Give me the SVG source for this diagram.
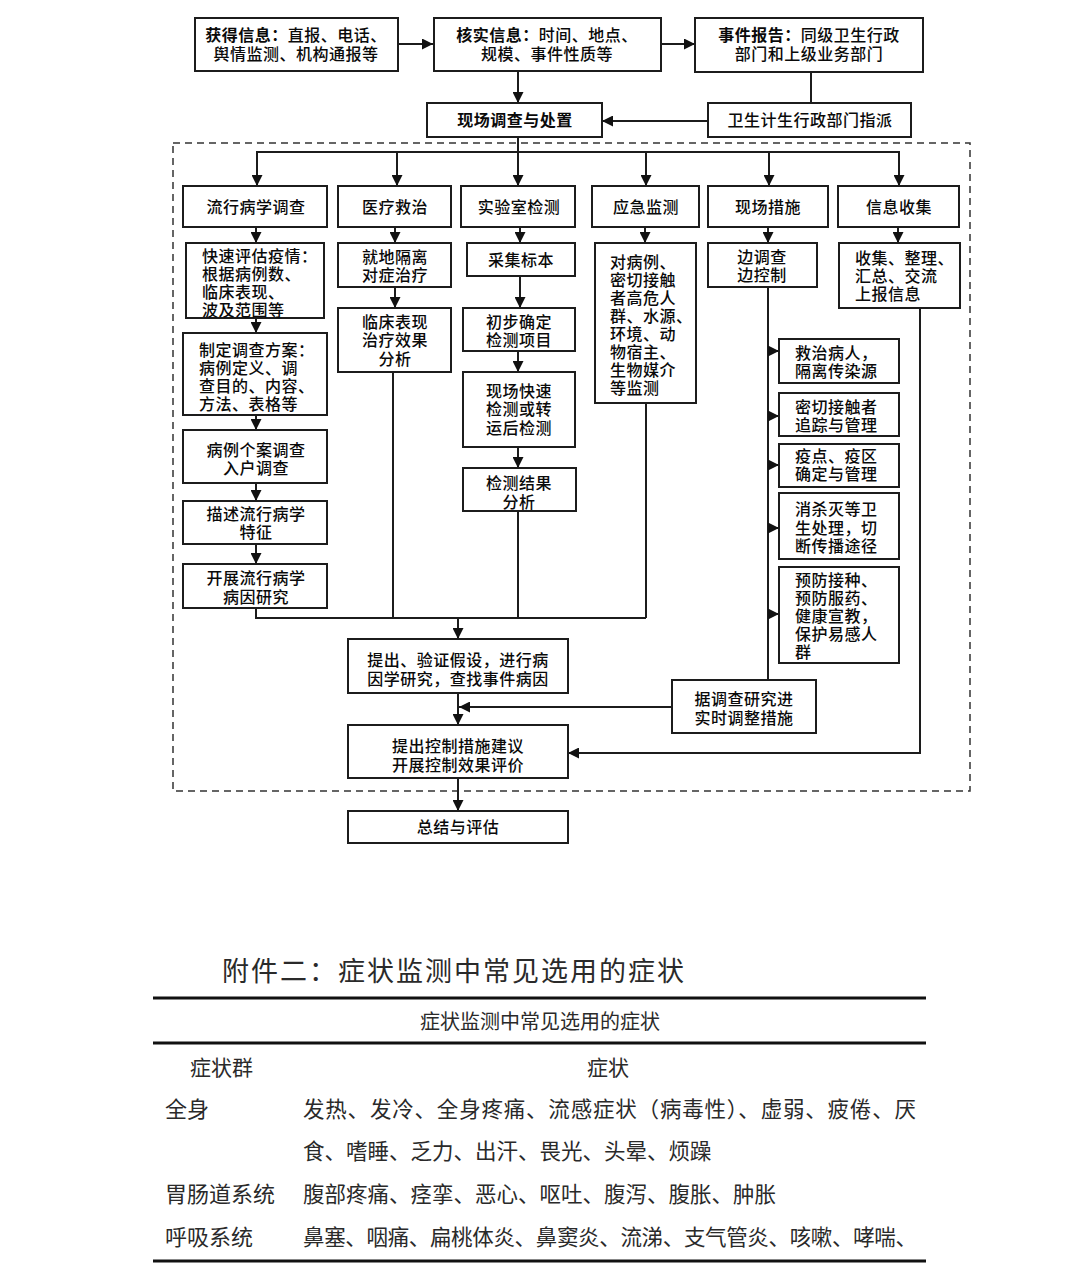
<svg xmlns="http://www.w3.org/2000/svg" width="1080" height="1278" viewBox="0 0 1080 1278">
<style>
.bx{fill:#fff;stroke:#1c1c1c;stroke-width:2}
.t{font-family:"Liberation Sans","Noto Sans CJK SC",sans-serif;font-size:16px;font-weight:500;fill:#0a0a0a;dominant-baseline:central;letter-spacing:0.5px}
.c{text-anchor:middle}
.b{font-weight:700}
.ln{stroke:#1c1c1c;stroke-width:2;fill:none}
.ar{marker-end:url(#ah)}
.dash{fill:none;stroke:#333;stroke-width:1.5;stroke-dasharray:7 5}
.tb{font-family:"Noto Sans CJK SC","Noto Sans",sans-serif;fill:#2a2a2a;font-weight:400}
.rule{stroke:#111;stroke-width:3}
</style>
<defs>
<marker id="ah" viewBox="0 0 10 10" refX="10" refY="5" markerWidth="11" markerHeight="11" markerUnits="userSpaceOnUse" orient="auto">
<path d="M0,0 L10,5 L0,10 z" fill="#111"/>
</marker>
</defs>
<rect width="1080" height="1278" fill="#fff"/>

<rect id="scope" class="dash" x="173" y="143" width="797" height="648"/>

<g id="connectors">
<line class="ln ar" x1="398" y1="44" x2="433" y2="44"/>
<line class="ln ar" x1="661" y1="44" x2="695" y2="44"/>
<line class="ln ar" x1="518" y1="71" x2="518" y2="103"/>
<line class="ln" x1="811" y1="72" x2="811" y2="103"/>
<line class="ln ar" x1="708" y1="121" x2="602" y2="121"/>
<line class="ln" x1="518" y1="137" x2="518" y2="152"/>
<line class="ln" x1="256" y1="152" x2="900" y2="152"/>
<line class="ln ar" x1="257" y1="152" x2="257" y2="186"/>
<line class="ln ar" x1="397" y1="152" x2="397" y2="186"/>
<line class="ln ar" x1="518" y1="152" x2="518" y2="186"/>
<line class="ln ar" x1="646" y1="152" x2="646" y2="186"/>
<line class="ln ar" x1="769" y1="152" x2="769" y2="186"/>
<line class="ln ar" x1="899" y1="152" x2="899" y2="186"/>
<line class="ln ar" x1="256" y1="227" x2="256" y2="243"/>
<line class="ln ar" x1="395" y1="227" x2="395" y2="243"/>
<line class="ln ar" x1="520" y1="227" x2="520" y2="243"/>
<line class="ln ar" x1="645" y1="227" x2="645" y2="243"/>
<line class="ln ar" x1="768" y1="227" x2="768" y2="243"/>
<line class="ln ar" x1="898" y1="227" x2="898" y2="243"/>
<line class="ln ar" x1="256" y1="318" x2="256" y2="333"/>
<line class="ln ar" x1="256" y1="415" x2="256" y2="430"/>
<line class="ln ar" x1="256" y1="483" x2="256" y2="501"/>
<line class="ln ar" x1="256" y1="544" x2="256" y2="564"/>
<line class="ln ar" x1="395" y1="287" x2="395" y2="308"/>
<line class="ln ar" x1="520" y1="276" x2="520" y2="308"/>
<line class="ln ar" x1="518" y1="351" x2="518" y2="372"/>
<line class="ln ar" x1="518" y1="447" x2="518" y2="468"/>
<polyline class="ln" points="256,608 256,618 646,618"/>
<line class="ln" x1="393" y1="372" x2="393" y2="618"/>
<line class="ln" x1="518" y1="511" x2="518" y2="618"/>
<line class="ln" x1="646" y1="403" x2="646" y2="618"/>
<line class="ln ar" x1="458" y1="618" x2="458" y2="639"/>
<line class="ln ar" x1="458" y1="693" x2="458" y2="725"/>
<line class="ln ar" x1="672" y1="707" x2="459" y2="707"/>
<line class="ln ar" x1="458" y1="778" x2="458" y2="811"/>
<line class="ln" x1="768" y1="287" x2="768" y2="680"/>
<line class="ln ar" x1="767" y1="351" x2="779" y2="351"/>
<line class="ln ar" x1="767" y1="416" x2="779" y2="416"/>
<line class="ln ar" x1="767" y1="465" x2="779" y2="465"/>
<line class="ln ar" x1="767" y1="528" x2="779" y2="528"/>
<line class="ln ar" x1="767" y1="614" x2="779" y2="614"/>
<polyline class="ln ar" points="920,308 920,753 568,753"/>
</g>

<g id="n-obtain"><rect class="bx" x="195" y="18" width="203" height="53"/>
<text class="t c"><tspan x="296" y="35"><tspan class="b">获得信息：</tspan>直报、电话、</tspan><tspan x="296" y="54">舆情监测、机构通报等</tspan></text></g>

<g id="n-verify"><rect class="bx" x="434" y="18" width="227" height="53"/>
<text class="t c"><tspan x="547" y="35"><tspan class="b">核实信息：</tspan>时间、地点、</tspan><tspan x="547" y="54">规模、事件性质等</tspan></text></g>

<g id="n-report"><rect class="bx" x="695" y="18" width="228" height="54"/>
<text class="t c"><tspan x="809" y="35"><tspan class="b">事件报告：</tspan>同级卫生行政</tspan><tspan x="809" y="54">部门和上级业务部门</tspan></text></g>

<g id="n-field"><rect class="bx" x="427" y="103" width="175" height="34"/>
<text class="t c b" x="515" y="120">现场调查与处置</text></g>

<g id="n-assign"><rect class="bx" x="708" y="103" width="203" height="34"/>
<text class="t c" x="810" y="120">卫生计生行政部门指派</text></g>

<g id="h-epi"><rect class="bx" x="183" y="186" width="144" height="41"/>
<text class="t c" x="256" y="207">流行病学调查</text></g>
<g id="h-med"><rect class="bx" x="338" y="186" width="113" height="41"/>
<text class="t c" x="395" y="207">医疗救治</text></g>
<g id="h-lab"><rect class="bx" x="461" y="186" width="114" height="41"/>
<text class="t c" x="519" y="207">实验室检测</text></g>
<g id="h-mon"><rect class="bx" x="592" y="186" width="107" height="41"/>
<text class="t c" x="646" y="207">应急监测</text></g>
<g id="h-act"><rect class="bx" x="708" y="186" width="120" height="41"/>
<text class="t c" x="768" y="207">现场措施</text></g>
<g id="h-info"><rect class="bx" x="838" y="186" width="121" height="41"/>
<text class="t c" x="899" y="207">信息收集</text></g>

<g id="e1"><rect class="bx" x="186" y="243" width="138" height="75"/>
<text class="t"><tspan x="202" y="256">快速评估疫情：</tspan><tspan x="202" y="274">根据病例数、</tspan><tspan x="202" y="292">临床表现、</tspan><tspan x="202" y="310">波及范围等</tspan></text></g>
<g id="e2"><rect class="bx" x="183" y="333" width="144" height="82"/>
<text class="t"><tspan x="199" y="350">制定调查方案：</tspan><tspan x="199" y="368">病例定义、调</tspan><tspan x="199" y="386">查目的、内容、</tspan><tspan x="199" y="404">方法、表格等</tspan></text></g>
<g id="e3"><rect class="bx" x="183" y="430" width="144" height="53"/>
<text class="t c"><tspan x="256" y="450">病例个案调查</tspan><tspan x="256" y="468">入户调查</tspan></text></g>
<g id="e4"><rect class="bx" x="183" y="501" width="144" height="43"/>
<text class="t c"><tspan x="256" y="514">描述流行病学</tspan><tspan x="256" y="532">特征</tspan></text></g>
<g id="e5"><rect class="bx" x="183" y="564" width="144" height="44"/>
<text class="t c"><tspan x="256" y="578">开展流行病学</tspan><tspan x="256" y="597">病因研究</tspan></text></g>

<g id="m1"><rect class="bx" x="338" y="243" width="113" height="44"/>
<text class="t c"><tspan x="395" y="257">就地隔离</tspan><tspan x="395" y="275">对症治疗</tspan></text></g>
<g id="m2"><rect class="bx" x="338" y="308" width="113" height="64"/>
<text class="t c"><tspan x="395" y="322">临床表现</tspan><tspan x="395" y="340">治疗效果</tspan><tspan x="395" y="359">分析</tspan></text></g>

<g id="l1"><rect class="bx" x="467" y="243" width="108" height="33"/>
<text class="t c" x="521" y="260">采集标本</text></g>
<g id="l2"><rect class="bx" x="463" y="308" width="112" height="43"/>
<text class="t c"><tspan x="519" y="322">初步确定</tspan><tspan x="519" y="340">检测项目</tspan></text></g>
<g id="l3"><rect class="bx" x="463" y="372" width="112" height="75"/>
<text class="t c"><tspan x="519" y="391">现场快速</tspan><tspan x="519" y="409">检测或转</tspan><tspan x="519" y="428">运后检测</tspan></text></g>
<g id="l4"><rect class="bx" x="463" y="468" width="113" height="43"/>
<text class="t c"><tspan x="519" y="483">检测结果</tspan><tspan x="519" y="502">分析</tspan></text></g>

<g id="s1"><rect class="bx" x="595" y="243" width="101" height="160"/>
<text class="t"><tspan x="610" y="262">对病例、</tspan><tspan x="610" y="280">密切接触</tspan><tspan x="610" y="298">者高危人</tspan><tspan x="610" y="316">群、水源、</tspan><tspan x="610" y="334">环境、动</tspan><tspan x="610" y="352">物宿主、</tspan><tspan x="610" y="370">生物媒介</tspan><tspan x="610" y="388">等监测</tspan></text></g>

<g id="a1"><rect class="bx" x="708" y="243" width="109" height="44"/>
<text class="t c"><tspan x="762" y="257">边调查</tspan><tspan x="762" y="275">边控制</tspan></text></g>

<g id="i1"><rect class="bx" x="839" y="243" width="121" height="65"/>
<text class="t"><tspan x="855" y="258">收集、整理、</tspan><tspan x="855" y="276">汇总、交流</tspan><tspan x="855" y="294">上报信息</tspan></text></g>

<g id="r1"><rect class="bx" x="779" y="339" width="120" height="44"/>
<text class="t"><tspan x="795" y="353">救治病人，</tspan><tspan x="795" y="371">隔离传染源</tspan></text></g>
<g id="r2"><rect class="bx" x="779" y="393" width="120" height="43"/>
<text class="t"><tspan x="795" y="407">密切接触者</tspan><tspan x="795" y="425">追踪与管理</tspan></text></g>
<g id="r3"><rect class="bx" x="779" y="444" width="120" height="43"/>
<text class="t"><tspan x="795" y="456">疫点、疫区</tspan><tspan x="795" y="474">确定与管理</tspan></text></g>
<g id="r4"><rect class="bx" x="779" y="493" width="120" height="66"/>
<text class="t"><tspan x="795" y="509">消杀灭等卫</tspan><tspan x="795" y="528">生处理，切</tspan><tspan x="795" y="546">断传播途径</tspan></text></g>
<g id="r5"><rect class="bx" x="779" y="567" width="120" height="96"/>
<text class="t"><tspan x="795" y="580">预防接种、</tspan><tspan x="795" y="598">预防服药、</tspan><tspan x="795" y="616">健康宣教，</tspan><tspan x="795" y="634">保护易感人</tspan><tspan x="795" y="652">群</tspan></text></g>

<g id="c1"><rect class="bx" x="348" y="639" width="220" height="54"/>
<text class="t c"><tspan x="458" y="660">提出、验证假设，进行病</tspan><tspan x="458" y="679">因学研究，查找事件病因</tspan></text></g>
<g id="c2"><rect class="bx" x="672" y="680" width="144" height="53"/>
<text class="t c"><tspan x="744" y="699">据调查研究进</tspan><tspan x="744" y="718">实时调整措施</tspan></text></g>
<g id="c3"><rect class="bx" x="348" y="725" width="220" height="53"/>
<text class="t c"><tspan x="458" y="746">提出控制措施建议</tspan><tspan x="458" y="765">开展控制效果评价</tspan></text></g>
<g id="c4"><rect class="bx" x="348" y="811" width="220" height="32"/>
<text class="t c" x="458" y="827">总结与评估</text></g>

<g id="table">
<text class="tb" x="222" y="981" font-size="27" font-weight="300" letter-spacing="2">附件二：症状监测中常见选用的症状</text>
<line class="rule" x1="153" y1="998" x2="926" y2="998"/>
<text class="tb" x="540" y="1029" font-size="20" text-anchor="middle">症状监测中常见选用的症状</text>
<line class="rule" x1="153" y1="1043" x2="926" y2="1043"/>
<text class="tb" x="190" y="1075" font-size="21">症状群</text>
<text class="tb" x="608" y="1075" font-size="21" text-anchor="middle">症状</text>
<text class="tb" x="165" y="1117" font-size="22">全身</text>
<text class="tb" x="303" y="1117" font-size="21.5" textLength="613" lengthAdjust="spacing">发热、发冷、全身疼痛、流感症状（病毒性）、虚弱、疲倦、厌</text>
<text class="tb" x="303" y="1159" font-size="21.5">食、嗜睡、乏力、出汗、畏光、头晕、烦躁</text>
<text class="tb" x="165" y="1202" font-size="22">胃肠道系统</text>
<text class="tb" x="303" y="1202" font-size="21.5">腹部疼痛、痉挛、恶心、呕吐、腹泻、腹胀、肿胀</text>
<text class="tb" x="165" y="1245" font-size="22">呼吸系统</text>
<text class="tb" x="303" y="1245" font-size="21.5" textLength="614" lengthAdjust="spacing">鼻塞、咽痛、扁桃体炎、鼻窦炎、流涕、支气管炎、咳嗽、哮喘、</text>
<line class="rule" x1="153" y1="1261" x2="926" y2="1261"/>
</g>
</svg>
